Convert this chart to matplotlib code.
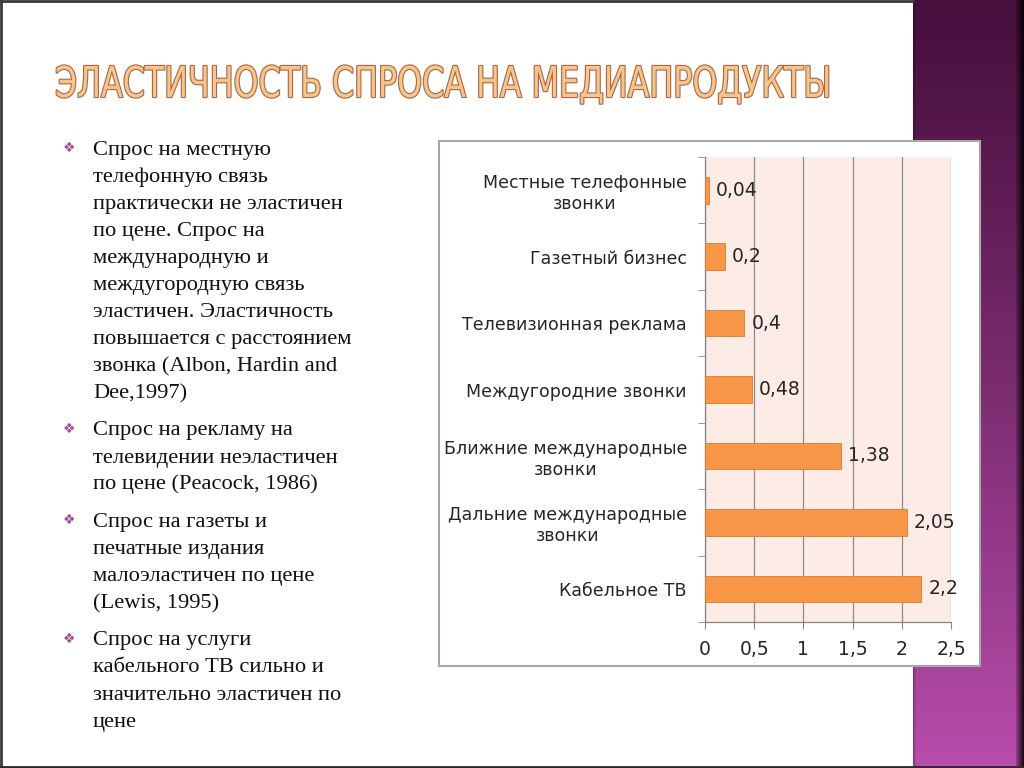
import matplotlib
matplotlib.use('Agg')
import matplotlib.pyplot as plt
import numpy as np
from matplotlib import patheffects as pe
from matplotlib.patches import Rectangle
from matplotlib.transforms import Affine2D

# ---------------- data ----------------
categories = ['Местные телефонные\nзвонки', 'Газетный бизнес', 'Телевизионная реклама',
              'Междугородние звонки', 'Ближние международные\nзвонки',
              'Дальние международные\nзвонки', 'Кабельное ТВ']
values = [0.04, 0.2, 0.4, 0.48, 1.38, 2.05, 2.2]
value_labels = ['0,04', '0,2', '0,4', '0,48', '1,38', '2,05', '2,2']
x_ticks = [0, 0.5, 1, 1.5, 2, 2.5]
x_tick_labels = ['0', '0,5', '1', '1,5', '2', '2,5']
title = 'ЭЛАСТИЧНОСТЬ СПРОСА НА МЕДИАПРОДУКТЫ'
bullet1 = ['Спрос на местную', 'телефонную связь', 'практически не эластичен',
           'по цене. Спрос на', 'международную и', 'междугородную связь',
           'эластичен. Эластичность', 'повышается с расстоянием',
           'звонка (Albon, Hardin and', 'Dee,1997)']
bullet2 = ['Спрос на рекламу на', 'телевидении неэластичен', 'по цене (Peacock, 1986)']
bullet3 = ['Спрос на газеты и', 'печатные издания', 'малоэластичен по цене', '(Lewis, 1995)']
bullet4 = ['Спрос на услуги', 'кабельного ТВ сильно и', 'значительно эластичен по', 'цене']
bullets = [bullet1, bullet2, bullet3, bullet4]

W, H = 1024, 768
fig = plt.figure(figsize=(W / 100, H / 100), dpi=100)
fig.patch.set_facecolor('white')

bg = fig.add_axes([0, 0, 1, 1])
bg.set_xlim(0, W)
bg.set_ylim(H, 0)
bg.axis('off')

# purple band on the right
ny, nx = 768, 111
t = np.linspace(0, 1, ny)[:, None, None]
top = np.array([0x46, 0x0f, 0x3c]) / 255
bot = np.array([0xb8, 0x4d, 0xac]) / 255
img = top + (bot - top) * t ** 1.1
img = np.repeat(img, nx, axis=1)
fac = np.ones(nx)
fac[-8:] = np.linspace(0.8, 0.15, 8)
fac[:3] = [0.75, 0.85, 0.93]
img = img * fac[None, :, None]
bg.imshow(img, extent=(913, 1024, 768, 0), aspect='auto', zorder=1)

# frame
bg.plot([1, 1], [0, H], color='#3a3a3a', lw=2, zorder=2)
bg.plot([0, 913], [1, 1], color='#3a3a3a', lw=2, zorder=2)
bg.plot([0, W], [767, 767], color='#2a2a2a', lw=2, zorder=2)

# chart panel
bg.add_patch(Rectangle((439, 141), 541, 525, facecolor='white', edgecolor='#a6a6a6',
                       lw=1.5, zorder=3))


# title: real text, glyph outlines stretched vertically around the baseline
class ScaledStroke(pe.Stroke):
    def __init__(self, sx, sy, x0, y0, **kw):
        super().__init__(**kw)
        self.sx, self.sy, self.x0, self.y0 = sx, sy, x0, y0

    def _offset_transform(self, renderer):
        k = renderer.dpi / 100.0
        x0, y0 = self.x0 * k, self.y0 * k
        return (Affine2D().translate(-x0, -y0).scale(self.sx, self.sy)
                .translate(x0, y0))


title_x, title_base, title_w, title_cap = 55, 97, 775, 31
tt = bg.text(title_x, title_base, title, fontsize=30, family='DejaVu Sans',
             color='#f7c48a', ha='left', va='baseline', zorder=5)
fig.canvas.draw()
w0 = tt.get_window_extent().width
fs = 30 * title_w / w0
tt.set_fontsize(fs)
fig.canvas.draw()
w1 = tt.get_window_extent().width
sx = title_w / w1
sy = title_cap / (0.729 * fs * 100 / 72)
tt.set_path_effects([
    ScaledStroke(sx, sy, title_x, H - title_base, linewidth=1.6, foreground='#a86848'),
    ScaledStroke(sx, sy, title_x, H - title_base, linewidth=0, foreground='#f7c48a')])

# bullets
y = 155.0
for para in bullets:
    bg.text(69, y - 7, '❖', fontsize=10, color='#a3489b', ha='center', va='center',
            family='DejaVu Sans', zorder=5)
    for line in para:
        bg.text(93, y, line, fontsize=16.2, family='Liberation Serif', color='#111111',
                ha='left', va='baseline', zorder=5)
        y += 27
    y += 10.5

# ---------------- chart ----------------
ax = fig.add_axes([705 / W, (H - 622) / H, 246 / W, 465 / H])
n = len(values)
yy = np.arange(n)
ax.barh(yy, values, height=0.4, color='#f79646', edgecolor='#dd7a33', linewidth=0.6, zorder=3)
ax.set_xlim(0, 2.5)
ax.set_ylim(n - 0.5, -0.5)
ax.set_facecolor('#fdebe5')
ax.set_xticks(x_ticks, x_tick_labels)
ax.xaxis.grid(True, color='#8c8c8c', lw=0.9)
ax.set_axisbelow(True)
ax.set_yticks(yy, categories)
ax.set_yticks(np.arange(-0.5, n, 1), minor=True)
ax.tick_params(axis='y', which='major', length=0, pad=13, labelsize=12.5, labelcolor='#262626')
ax.tick_params(axis='y', which='minor', length=5, color='#868686', direction='out')
ax.tick_params(axis='x', length=5, color='#868686', pad=8, labelsize=13.5, labelcolor='#262626')
for lab in ax.get_yticklabels():
    lab.set_multialignment('center')
for s in ['top', 'right']:
    ax.spines[s].set_visible(False)
for s in ['left', 'bottom']:
    ax.spines[s].set_color('#868686')
    ax.spines[s].set_linewidth(0.9)
for i, (v, lab) in enumerate(zip(values, value_labels)):
    ax.annotate(lab, (v, i), xytext=(5, 0), textcoords='offset points', va='center',
                ha='left', fontsize=13.5, color='#262626', zorder=4, annotation_clip=False)

fig.savefig('out.png', dpi=100, facecolor='white')
